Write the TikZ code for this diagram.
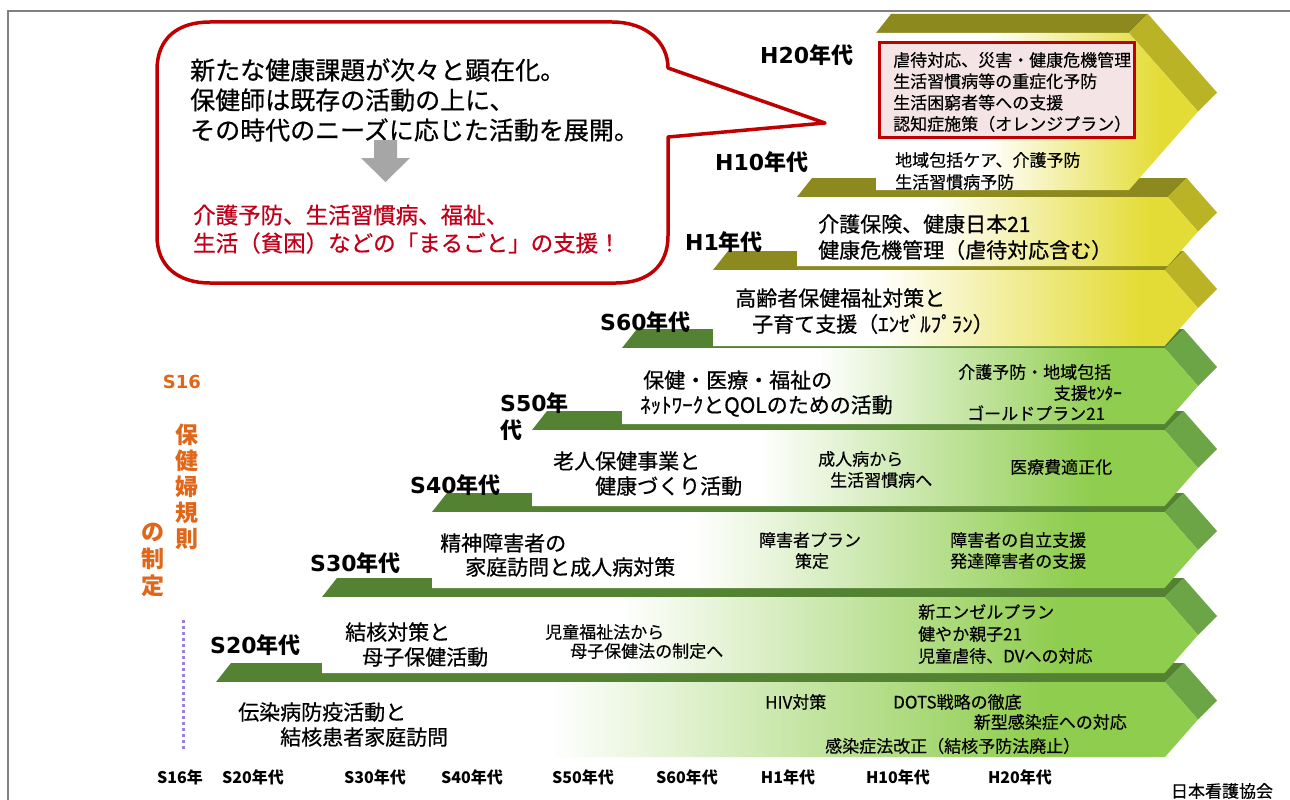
\documentclass[tikz,border=0pt]{standalone}
\usepackage{fontspec}
\setmainfont{Noto Sans CJK JP}
\newfontfamily\lat{DejaVu Sans}
\newfontfamily\medjp[FakeBold=0.6]{Noto Sans CJK JP}
\newfontfamily\smjp[FakeBold=0.35]{Noto Sans CJK JP}
\definecolor{gfront}{HTML}{8FCD4F}
\definecolor{gtop}{HTML}{528232}
\definecolor{gside}{HTML}{6BA545}
\definecolor{yfront}{HTML}{E4DC36}
\definecolor{ytop}{HTML}{8C891E}
\definecolor{yside}{HTML}{BBB326}
\definecolor{boxred}{HTML}{C00000}
\definecolor{boxpink}{HTML}{F4E4E6}
\definecolor{callred}{HTML}{C00000}
\definecolor{redtxt}{HTML}{C0001A}
\definecolor{orgtxt}{HTML}{E0661A}
\definecolor{arrowgray}{HTML}{A6A6A6}
\definecolor{dotpurple}{HTML}{9B80D6}
\definecolor{framegray}{HTML}{808080}
\pgfdeclarehorizontalshading{gshade}{100bp}{color(0bp)=(white); color(25bp)=(white); color(42bp)=(white); color(67bp)=(gfront); color(100bp)=(gfront)}
\pgfdeclarehorizontalshading{yshade}{100bp}{color(0bp)=(white); color(25bp)=(white); color(42bp)=(white); color(69bp)=(yfront); color(100bp)=(yfront)}
\newcommand{\stepbar}[6]{%
  \pgfmathsetmacro\bmid{(#2+#3)/2}%
  \pgfmathsetmacro\bR{1198-0.88*(#3-#2)/2}%
  \fill[#4] (#1,#2) -- (#1+15,#2-19) -- (\bR+19,#2-19) -- (\bR,#2) -- cycle;
  \fill[#5] (\bR,#2) -- (\bR+19,#2-19) -- (1217,\bmid-19) -- (1198,\bmid) -- cycle;
  \shade[shading=#6] (#1,#2) -- (\bR,#2) -- (1198,\bmid) -- (\bR,#3) -- (#1,#3) -- cycle;
}
\tikzset{
  lbl/.style={font=\fontsize{22}{24}\selectfont\bfseries, anchor=west, inner sep=0pt},
  maintxt/.style={font=\medjp\fontsize{21}{24}\selectfont, anchor=west, inner sep=0pt},
  smtxt/.style={font=\smjp\fontsize{17}{20}\selectfont, anchor=west, inner sep=0pt},
  axtxt/.style={font=\fontsize{16}{18}\selectfont\bfseries, inner sep=0pt},
  calltxt/.style={font=\medjp\fontsize{25}{30}\selectfont, anchor=west, inner sep=0pt},
  redcall/.style={font=\medjp\fontsize{22.5}{28}\selectfont, text=redtxt, anchor=west, inner sep=0pt},
  orange/.style={font=\fontsize{23}{26}\selectfont\bfseries, text=orgtxt, inner sep=0pt, align=center},
}
\begin{document}
\begin{tikzpicture}[x=1pt,y=-1pt]
\fill[white] (0,0) rectangle (1290,800);
\useasboundingbox (0,0) rectangle (1290,800);
\draw[framegray, line width=1.5pt] (8,800) -- (8,11) -- (1290,11);

% bars, bottom first
\stepbar{216}{682}{757}{gtop}{gside}{gshade}
\stepbar{322}{597}{673}{gtop}{gside}{gshade}
\stepbar{432}{512}{588}{gtop}{gside}{gshade}
\stepbar{532}{430}{506}{gtop}{gside}{gshade}
\stepbar{622}{348}{424}{gtop}{gside}{gshade}
\stepbar{713}{270}{346}{ytop}{yside}{yshade}
\stepbar{797}{197}{266}{ytop}{yside}{yshade}
\stepbar{876}{33}{190}{ytop}{yside}{yshade}

% red box on the top bar
\node (redbox) [draw=boxred, line width=3pt, fill=boxpink, minimum width=255pt, minimum height=94pt, inner sep=0pt] at (1007,90) {};
\node (rbtext) [smtxt, font=\smjp\fontsize{17}{21.3}\selectfont, align=left] at (893,92) {虐待対応、災害・健康危機管理\\生活習慣病等の重症化予防\\生活困窮者等への支援\\認知症施策（オレンジプラン）};
\node (h20a) [smtxt] at (895,160) {地域包括ケア、介護予防};
\node (h20b) [smtxt] at (895,182) {生活習慣病予防};

% bar 7
\node (h10a) [maintxt] at (818,224) {介護保険、健康日本21};
\node (h10b) [maintxt] at (818,250) {健康危機管理（虐待対応含む）};
% bar 6
\node (h1a) [maintxt] at (735,298) {高齢者保健福祉対策と};
\node (h1b) [maintxt] at (752,324) {子育て支援（ｴﾝｾﾞﾙﾌﾟﾗﾝ）};
% bar 5
\node (s60a) [maintxt] at (643,380) {保健・医療・福祉の};
\node (s60b) [maintxt] at (640,406) {ﾈｯﾄﾜｰｸとQOLのための活動};
\node (s60c) [smtxt] at (958,372) {介護予防・地域包括};
\node (s60d) [smtxt, anchor=east] at (1122,393) {支援ｾﾝﾀｰ};
\node (s60e) [smtxt] at (967,413) {ゴールドプラン21};
% bar 4
\node (s50a) [maintxt] at (553,461) {老人保健事業と};
\node (s50b) [maintxt] at (595,486) {健康づくり活動};
\node (s50c) [smtxt] at (818,459) {成人病から};
\node (s50d) [smtxt] at (830,480) {生活習慣病へ};
\node (s50e) [smtxt] at (1010,467) {医療費適正化};
% bar 3
\node (s40a) [maintxt] at (440,543) {精神障害者の};
\node (s40b) [maintxt] at (465,567) {家庭訪問と成人病対策};
\node (s40c) [smtxt, anchor=center] at (810,540) {障害者プラン};
\node (s40d) [smtxt, anchor=center] at (812,561) {策定};
\node (s40e) [smtxt] at (950,540) {障害者の自立支援};
\node (s40f) [smtxt] at (950,561) {発達障害者の支援};
% bar 2
\node (s30a) [maintxt] at (345,632) {結核対策と};
\node (s30b) [maintxt] at (362,657) {母子保健活動};
\node (s30c) [smtxt] at (545,632) {児童福祉法から};
\node (s30d) [smtxt] at (570,651) {母子保健法の制定へ};
\node (s30e) [smtxt] at (918,612) {新エンゼルプラン};
\node (s30f) [smtxt] at (918,634) {健やか親子21};
\node (s30g) [smtxt] at (918,656) {児童虐待、DVへの対応};
% bar 1
\node (s20a) [maintxt] at (238,712) {伝染病防疫活動と};
\node (s20b) [maintxt] at (280,737) {結核患者家庭訪問};
\node (s20c) [smtxt] at (765,702) {HIV対策};
\node (s20d) [smtxt] at (893,702) {DOTS戦略の徹底};
\node (s20e) [smtxt, anchor=east] at (1127,722) {新型感染症への対応};
\node (s20f) [smtxt] at (825,746) {感染症法改正（結核予防法廃止）};

% era labels
\node (lH20) [lbl] at (760,55) {{\lat H20}年代};
\node (lH10) [lbl] at (715,162) {{\lat H10}年代};
\node (lH1) [lbl] at (685,242) {{\lat H1}年代};
\node (lS60) [lbl] at (600,322) {{\lat S60}年代};
\node (lS50) [lbl] at (500,403) {{\lat S50}年};
\node (lS50b) [lbl] at (500,430) {代};
\node (lS40) [lbl] at (410,485) {{\lat S40}年代};
\node (lS30) [lbl] at (310,563) {{\lat S30}年代};
\node (lS20) [lbl] at (210,645) {{\lat S20}年代};

% left orange text
\node (s16) [orange, font=\lat\fontsize{18}{20}\selectfont\bfseries] at (182,382) {S16};
\node (kisoku) [orange] at (187,487) {保\\健\\婦\\規\\則};
\node (seitei) [orange, font=\fontsize{23}{27}\selectfont\bfseries] at (153,560) {の\\制\\定};
\coordinate (dotA) at (183,620);
\coordinate (dotB) at (183,750);
\draw[dotpurple, line width=3pt, dash pattern=on 3pt off 3pt] (dotA) -- (dotB);

% axis
\node (a1) [axtxt] at (180,777) {S16年};
\node (a2) [axtxt] at (253,777) {S20年代};
\node (a3) [axtxt] at (375,777) {S30年代};
\node (a4) [axtxt] at (472,777) {S40年代};
\node (a5) [axtxt] at (583,777) {S50年代};
\node (a6) [axtxt] at (687,777) {S60年代};
\node (a7) [axtxt] at (788,777) {H1年代};
\node (a8) [axtxt] at (898,777) {H10年代};
\node (a9) [axtxt] at (1020,777) {H20年代};
\node (jna) [axtxt, font=\smjp\fontsize{17}{19}\selectfont] at (1222,791) {日本看護協会};

% callout
\draw[callred, line width=3.5pt, fill=white, line join=round]
  (157,70) .. controls (157,38) and (178,22) .. (210,22) -- (612,22)
  .. controls (646,22) and (668,42) .. (668,68) -- (825,123) -- (668,137)
  -- (668,236) .. controls (668,266) and (648,283) .. (616,283) -- (210,283)
  .. controls (178,283) and (157,266) .. (157,236) -- cycle;
\node (c1) [calltxt] at (190,70) {新たな健康課題が次々と顕在化。};
\node (c2) [calltxt] at (190,100) {保健師は既存の活動の上に、};
\node (c3) [calltxt] at (190,130) {その時代のニーズに応じた活動を展開。};
\fill[arrowgray] (374,140) -- (397,140) -- (397,158) -- (410,158) -- (385.5,182) -- (361,158) -- (374,158) -- cycle;
\node (r1) [redcall] at (193,215) {介護予防、生活習慣病、福祉、};
\node (r2) [redcall] at (193,243) {生活（貧困）などの「まるごと」の支援！};
\end{tikzpicture}
\end{document}
